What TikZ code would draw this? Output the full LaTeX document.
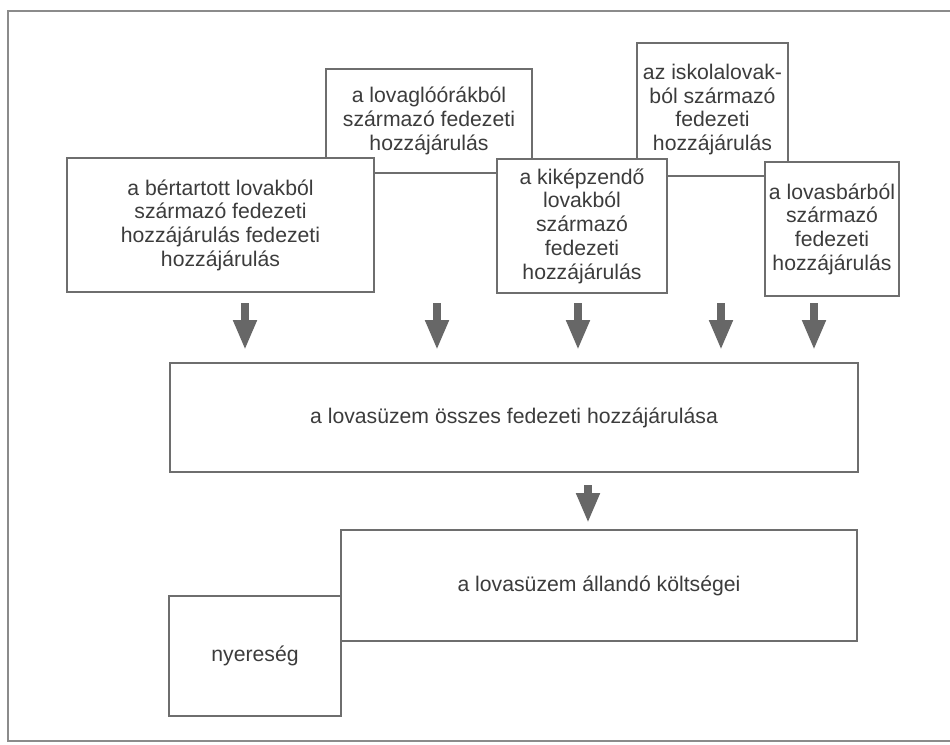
\documentclass[tikz,border=0pt]{standalone}
\usepackage{fontspec}
\setmainfont{Liberation Sans}
\usepackage{xcolor}
\usetikzlibrary{arrows.meta,positioning}
\definecolor{boxline}{HTML}{6E6E6E}
\definecolor{boxtext}{HTML}{3C3C3C}
\definecolor{arrowgray}{HTML}{676767}
\tikzset{
    box/.style={draw=boxline, line width=1.5pt, fill=white, align=center,
        inner sep=0pt, text=boxtext,
        font=\fontsize{15.9pt}{17.8pt}\selectfont},
    flow/.style={draw=arrowgray, line width=6pt,
        -{Triangle[width=16.5pt, length=22.5pt]}}
}

\begin{document}
\begin{tikzpicture}[x=0.75pt, y=-0.75pt]
                        \useasboundingbox (0,0) rectangle (950,744);
                        \draw[boxline!80, line width=1pt] (8,11) rectangle (965,741);

                        \node[box, minimum width=154.5pt, minimum height=78pt] (lovag) at (429,121) {a lovaglóórákból\\származó fedezeti\\hozzájárulás};
                        \node[box, minimum width=113.25pt, minimum height=99.75pt] (iskola) at (712.5,109.5) {az iskolalovak-\\ból származó\\fedezeti\\hozzájárulás};
                        \node[box, minimum width=230.25pt, minimum height=100.5pt] (bert) at (220.5,225) {a bértartott lovakból\\származó fedezeti\\hozzájárulás fedezeti\\hozzájárulás};
                        \node[box, minimum width=127.5pt, minimum height=100.5pt] (kikep) at (582,226) {a kiképzendő\\lovakból\\származó\\fedezeti\\hozzájárulás};
                        \node[box, minimum width=100.5pt, minimum height=100.5pt] (lovasbar) at (832,229) {a lovasbárból\\származó\\fedezeti\\hozzájárulás};
                        \node[box, minimum width=516pt, minimum height=81.75pt] (ossz) at (514,417.5) {a lovasüzem összes fedezeti hozzájárulása};
                        \node[box, minimum width=387pt, minimum height=83.25pt] (allando) at (599,585.5) {a lovasüzem állandó költségei};
                        \node[box, minimum width=129pt, minimum height=90pt] (nyer) at (255,656) {nyereség};

                        \foreach \ax in {245,437,578,721,814}
                            \draw[flow, shorten <=7.5pt, shorten >=9pt] (bert.south -| \ax,0) -- (ossz.north -| \ax,0);
                        \draw[flow, shorten <=9pt, shorten >=4.5pt] (ossz.south -| 588,0) -- (allando.north -| 588,0);
                    \end{tikzpicture}
\end{document}
